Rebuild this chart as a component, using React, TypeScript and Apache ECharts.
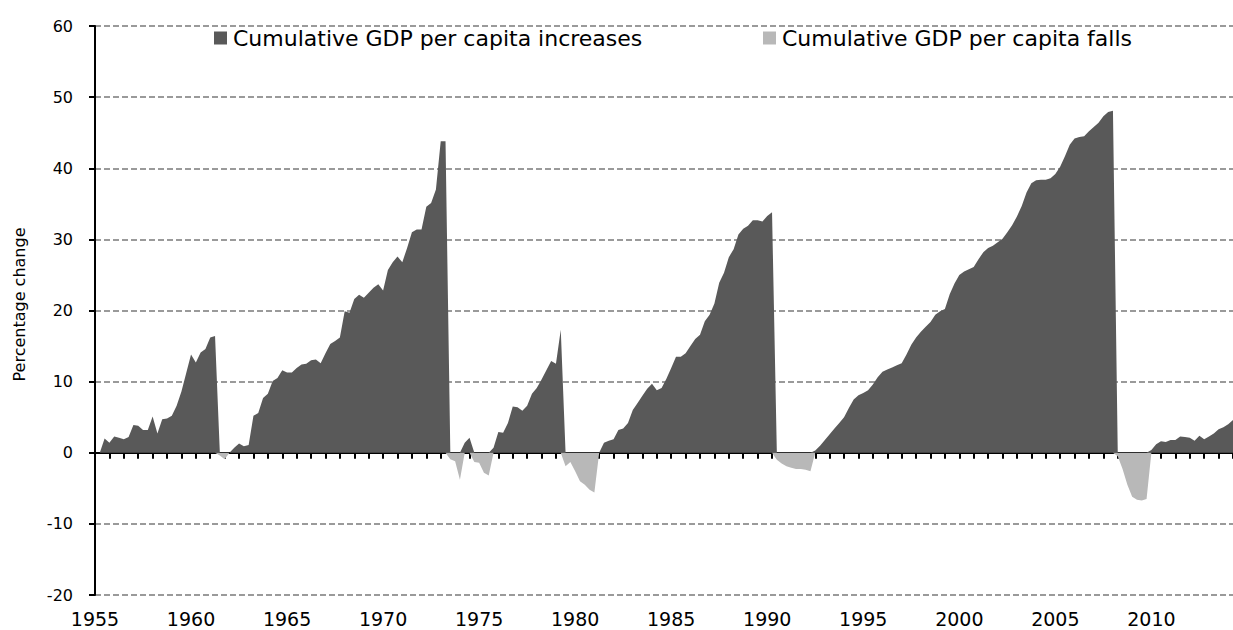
import React, { useEffect, useRef } from "react";
import * as echarts from "echarts";

const SERIES_UP = "Cumulative GDP per capita increases";
const SERIES_DOWN = "Cumulative GDP per capita falls";

const FIRST_YEAR = 1955;
const LAST_YEAR = 2014;
const LAST_QUARTER = 2;

const yTickMin = -20;
const yTickMax = 60;
const yTickStep = 10;

// Quarterly cumulative increases (percentage), 1955 Q1 .. 2014 Q2, one line per year
const rises: number[] = [
  0, 0, 2.0, 1.4, // 1955
  2.3, 2.1, 1.9, 2.2, // 1956
  3.9, 3.8, 3.2, 3.2, // 1957
  5.1, 2.7, 4.7, 4.8, // 1958
  5.2, 6.6, 8.6, 11.2, // 1959
  13.8, 12.7, 14.1, 14.6, // 1960
  16.2, 16.4, 0, 0, // 1961
  0, 0.7, 1.3, 0.9, // 1962
  1.1, 5.2, 5.6, 7.7, // 1963
  8.3, 10.1, 10.5, 11.6, // 1964
  11.3, 11.3, 11.9, 12.4, // 1965
  12.5, 13.0, 13.1, 12.6, // 1966
  14.0, 15.3, 15.7, 16.2, // 1967
  19.9, 19.7, 21.6, 22.2, // 1968
  21.8, 22.5, 23.2, 23.7, // 1969
  22.8, 25.7, 26.8, 27.6, // 1970
  26.8, 28.8, 31.0, 31.4, // 1971
  31.4, 34.6, 35.1, 37.0, // 1972
  43.8, 43.8, 0, 0, // 1973
  0, 1.4, 2.1, 0, // 1974
  0, 0, 0, 0.7, // 1975
  2.9, 2.8, 4.2, 6.5, // 1976
  6.4, 5.9, 6.6, 8.3, // 1977
  9.1, 10.3, 11.6, 12.9, // 1978
  12.5, 17.3, 0, 0, // 1979
  0, 0, 0, 0, // 1980
  0, 0, 1.4, 1.7, // 1981
  1.9, 3.2, 3.4, 4.2, // 1982
  6.0, 7.0, 8.0, 9.0, // 1983
  9.7, 8.8, 9.1, 10.4, // 1984
  11.9, 13.5, 13.5, 14.0, // 1985
  15.0, 16.0, 16.6, 18.5, // 1986
  19.4, 21.0, 23.9, 25.3, // 1987
  27.5, 28.6, 30.7, 31.5, // 1988
  31.9, 32.7, 32.7, 32.5, // 1989
  33.3, 33.8, 0, 0, // 1990
  0, 0, 0, 0, // 1991
  0, 0, 0.3, 1.0, // 1992
  1.8, 2.6, 3.4, 4.2, // 1993
  5.0, 6.3, 7.5, 8.1, // 1994
  8.4, 8.8, 9.6, 10.6, // 1995
  11.4, 11.7, 12.0, 12.3, // 1996
  12.6, 13.8, 15.2, 16.2, // 1997
  17.0, 17.7, 18.4, 19.4, // 1998
  19.9, 20.2, 22.3, 23.8, // 1999
  25.0, 25.5, 25.8, 26.1, // 2000
  27.2, 28.2, 28.8, 29.1, // 2001
  29.6, 30.1, 31.0, 32.0, // 2002
  33.2, 34.7, 36.6, 37.9, // 2003
  38.3, 38.4, 38.4, 38.6, // 2004
  39.2, 40.2, 41.7, 43.3, // 2005
  44.2, 44.4, 44.5, 45.2, // 2006
  45.8, 46.4, 47.3, 47.9, // 2007
  48.1, 0, 0, 0, // 2008
  0, 0, 0, 0, // 2009
  0.4, 1.2, 1.6, 1.5, // 2010
  1.8, 1.8, 2.3, 2.2, // 2011
  2.1, 1.7, 2.4, 1.9, // 2012
  2.3, 2.7, 3.3, 3.6, // 2013
  4.0, 4.6, // 2014
];

// Quarterly cumulative falls (percentage), same quarters
const falls: number[] = [
  0, 0, 0, 0, // 1955
  0, 0, 0, 0, // 1956
  0, 0, 0, 0, // 1957
  0, 0, 0, 0, // 1958
  0, 0, 0, 0, // 1959
  0, 0, 0, 0, // 1960
  0, 0, -0.4, -0.9, // 1961
  0, 0, 0, 0, // 1962
  0, 0, 0, 0, // 1963
  0, 0, 0, 0, // 1964
  0, 0, 0, 0, // 1965
  0, 0, 0, 0, // 1966
  0, 0, 0, 0, // 1967
  0, 0, 0, 0, // 1968
  0, 0, 0, 0, // 1969
  0, 0, 0, 0, // 1970
  0, 0, 0, 0, // 1971
  0, 0, 0, 0, // 1972
  0, 0, -0.9, -1.2, // 1973
  -3.8, 0, 0, -1.3, // 1974
  -1.4, -2.8, -3.2, 0, // 1975
  0, 0, 0, 0, // 1976
  0, 0, 0, 0, // 1977
  0, 0, 0, 0, // 1978
  0, 0, -1.9, -1.3, // 1979
  -2.6, -4.0, -4.5, -5.2, // 1980
  -5.6, 0, 0, 0, // 1981
  0, 0, 0, 0, // 1982
  0, 0, 0, 0, // 1983
  0, 0, 0, 0, // 1984
  0, 0, 0, 0, // 1985
  0, 0, 0, 0, // 1986
  0, 0, 0, 0, // 1987
  0, 0, 0, 0, // 1988
  0, 0, 0, 0, // 1989
  0, 0, -1.0, -1.5, // 1990
  -1.9, -2.1, -2.3, -2.3, // 1991
  -2.4, -2.6, 0, 0, // 1992
  0, 0, 0, 0, // 1993
  0, 0, 0, 0, // 1994
  0, 0, 0, 0, // 1995
  0, 0, 0, 0, // 1996
  0, 0, 0, 0, // 1997
  0, 0, 0, 0, // 1998
  0, 0, 0, 0, // 1999
  0, 0, 0, 0, // 2000
  0, 0, 0, 0, // 2001
  0, 0, 0, 0, // 2002
  0, 0, 0, 0, // 2003
  0, 0, 0, 0, // 2004
  0, 0, 0, 0, // 2005
  0, 0, 0, 0, // 2006
  0, 0, 0, 0, // 2007
  0, -0.5, -2.3, -4.5, // 2008
  -6.2, -6.6, -6.7, -6.5, // 2009
  0, 0, 0, 0, // 2010
  0, 0, 0, 0, // 2011
  0, 0, 0, 0, // 2012
  0, 0, 0, 0, // 2013
  0, 0, // 2014
];

function buildQuarters(): string[] {
  const out: string[] = [];
  for (let y = FIRST_YEAR; y <= LAST_YEAR; y++) {
    for (let q = 1; q <= 4; q++) {
      if (y === LAST_YEAR && q > LAST_QUARTER) break;
      out.push(`${y} Q${q}`);
    }
  }
  return out;
}

const FONT = "DejaVu Sans";

export default function App() {
  const ref = useRef<HTMLDivElement>(null);

  useEffect(() => {
    document.body.style.margin = "0";
    if (!ref.current) return;
    const chart = echarts.init(ref.current, undefined, { renderer: "svg" });
    const quarters = buildQuarters();

    const legendBase = {
      top: 22,
      itemWidth: 13,
      itemHeight: 13,
      icon: "rect",
      textStyle: {
        fontFamily: FONT,
        fontSize: 22,
        color: "#000",
        padding: [0, 0, 0, 1],
      },
    };

    chart.setOption({
      animation: false,
      textStyle: { fontFamily: FONT },
      grid: { left: 95, right: 0, top: 26, bottom: 35, containLabel: false },
      legend: [
        { ...legendBase, left: 209, data: [SERIES_UP] },
        { ...legendBase, left: 758, data: [SERIES_DOWN] },
      ],
      xAxis: [
        {
          type: "category",
          data: quarters,
          boundaryGap: false,
          position: "bottom",
          axisLine: { show: false, onZero: false },
          axisTick: { show: false },
          splitLine: { show: false },
          axisLabel: {
            interval: 19,
            margin: 14,
            fontFamily: FONT,
            fontSize: 19,
            color: "#000",
            formatter: (v: string) => v.slice(0, 4),
          },
        },
        {
          type: "category",
          data: quarters,
          boundaryGap: false,
          position: "bottom",
          axisLine: { show: true, onZero: true, lineStyle: { color: "#000", width: 2 } },
          axisTick: {
            show: true,
            interval: 2,
            length: 6,
            inside: false,
            lineStyle: { color: "#000", width: 2 },
          },
          axisLabel: { show: false },
          splitLine: { show: false },
        },
      ],
      yAxis: {
        type: "value",
        min: yTickMin,
        max: yTickMax,
        interval: yTickStep,
        name: "Percentage change",
        nameLocation: "middle",
        nameGap: 68,
        nameTextStyle: {
          fontFamily: FONT,
          fontSize: 16,
          color: "#000",
          padding: [0, 0, 0, 12],
        },
        axisLine: { show: true, lineStyle: { color: "#000", width: 2 } },
        axisTick: { show: true, length: 6, inside: false, lineStyle: { color: "#000", width: 2 } },
        axisLabel: { margin: 22, fontFamily: FONT, fontSize: 16, color: "#000" },
        splitLine: {
          show: true,
          lineStyle: { type: [6, 3], color: "#7a7a7a", width: 1.5 },
        },
      },
      series: [
        {
          name: SERIES_UP,
          type: "line",
          xAxisIndex: 0,
          data: rises,
          showSymbol: false,
          symbol: "none",
          color: "#595959",
          lineStyle: { width: 0 },
          areaStyle: { color: "#595959", opacity: 1 },
          z: 2,
        },
        {
          name: SERIES_DOWN,
          type: "line",
          xAxisIndex: 0,
          data: falls,
          showSymbol: false,
          symbol: "none",
          color: "#b8b8b8",
          lineStyle: { width: 0 },
          areaStyle: { color: "#b8b8b8", opacity: 1 },
          z: 2,
        },
      ],
    });

    return () => chart.dispose();
  }, []);

  return <div ref={ref} style={{ width: 1233, height: 630 }} />;
}
